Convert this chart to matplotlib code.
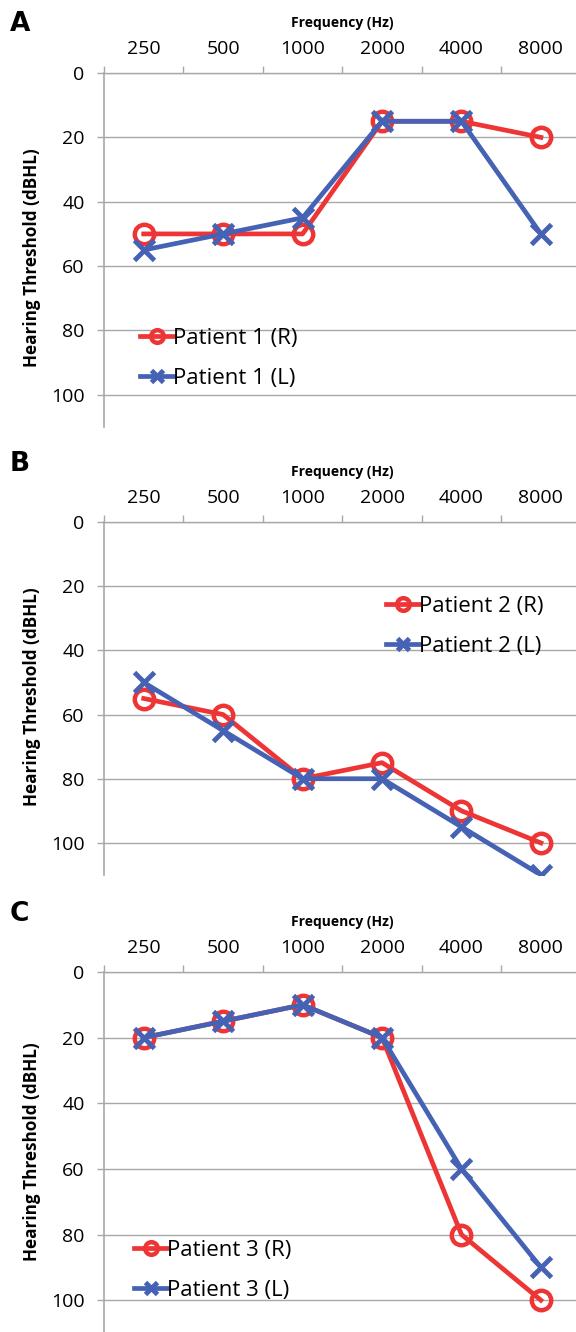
import matplotlib
matplotlib.use('Agg')
import matplotlib.pyplot as plt
import numpy as np

freqs = ['250', '500', '1000', '2000', '4000', '8000']

p1_right = [50, 50, 50, 15, 15, 20]
p1_left = [55, 50, 45, 15, 15, 50]
p2_right = [55, 60, 80, 75, 90, 100]
p2_left = [50, 65, 80, 80, 95, 110]
p3_right = [20, 15, 10, 20, 80, 100]
p3_left = [20, 15, 10, 20, 60, 90]

panels = [('A', 'Patient 1', p1_right, p1_left),
          ('B', 'Patient 2', p2_right, p2_left),
          ('C', 'Patient 3', p3_right, p3_left)]

plt.rcParams['font.family'] = ['Open Sans', 'DejaVu Sans']

red = '#EE3535'
blue = '#4562B4'
grey = '#A8A8A8'

W, H = 576, 1332
fig = plt.figure(figsize=(W / 100, H / 100), dpi=100)

# axes boxes in reference pixels: left, top (y=0), bottom (y=110)
boxes = [(104, 73, 427), (104, 522, 875), (104, 972, 1333)]
# legend top-left corner in reference pixels
legend_px = [(140, 328), (386, 596), (134, 1240)]
letter_px = [(10, 24), (10, 464), (10, 914)]
ylabel_center_px = [258, 697, 1152]

x = np.arange(len(freqs))
for k, (letter, name, r, l) in enumerate(panels):
    left, top, bot = boxes[k]
    ax = fig.add_axes([left / W, 1 - bot / H, (W - left) / W + 0.008, (bot - top) / H])
    ax.plot(x, r, color=red, lw=3.4, marker='o', ms=14, mfc='none', mec=red, mew=3.2,
            label=name + ' (R)', zorder=3)
    ax.plot(x, l, color=blue, lw=3.4, marker='x', ms=14, mew=3.5,
            label=name + ' (L)', zorder=4)
    ax.set_xlim(-0.5, 5.5)
    ax.set_ylim(110, 0)
    ax.set_yticks([0, 20, 40, 60, 80, 100])
    ax.set_xticks(x)
    ax.set_xticklabels(freqs)
    ax.set_xticks(np.arange(-0.5, 5.6, 1), minor=True)
    ax.xaxis.tick_top()
    ax.xaxis.set_label_position('top')
    ax.set_xlabel('Frequency (Hz)', fontsize=10, fontweight='bold', labelpad=9)
    ax.set_ylabel('Hearing Threshold (dBHL)', fontsize=12.3, fontweight='bold')
    ax.yaxis.set_label_coords(-62 / (W - left), (bot - ylabel_center_px[k]) / (bot - top))
    ax.tick_params(axis='x', which='major', length=0, pad=11, labelsize=14)
    ax.tick_params(axis='x', which='minor', length=5, color=grey, width=1)
    ax.tick_params(axis='y', length=5, color=grey, width=1, labelsize=14, pad=9)
    ax.grid(axis='y', color=grey, lw=1)
    for s in ['right', 'bottom']:
        ax.spines[s].set_visible(False)
    ax.spines['left'].set_color(grey)
    ax.spines['top'].set_color(grey)
    ax.spines['left'].set_linewidth(1.2)
    ax.spines['top'].set_linewidth(1)
    lx, ly = legend_px[k]
    ax.legend(loc='upper left', bbox_to_anchor=(lx / W, 1 - ly / H),
              bbox_transform=fig.transFigure, frameon=False,
              fontsize=16, handlelength=1.5, handletextpad=0.0,
              borderpad=0, borderaxespad=0, labelspacing=0.85, markerscale=0.65)
    tx, ty = letter_px[k]
    fig.text(tx / W, 1 - ty / H, letter, fontsize=19, fontweight='bold',
             va='center', ha='left', family='DejaVu Sans')

fig.savefig('out.png', dpi=100)
